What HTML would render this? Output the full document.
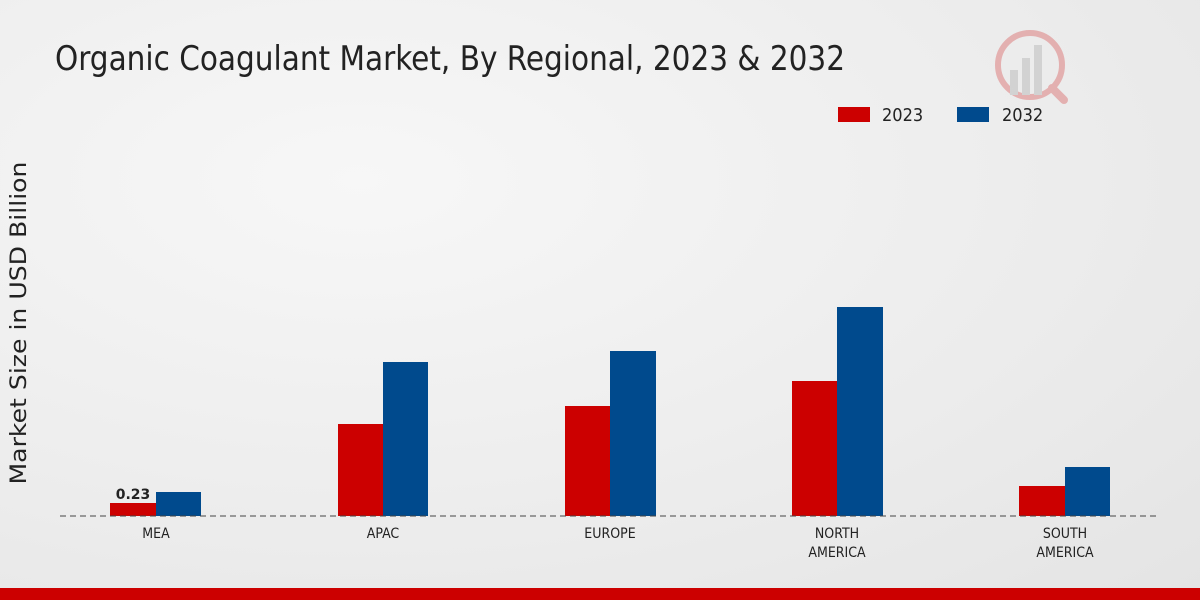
<!DOCTYPE html>
<html><head><style>
body{margin:0;width:1200px;height:600px;overflow:hidden;font-family:"Liberation Sans",sans-serif;}
.bg{position:absolute;left:0;top:0;width:1200px;height:600px;background:radial-gradient(ellipse at 30% 30%,#f7f7f7 0%,#ececec 60%,#e4e4e4 100%);}
</style></head><body>
<div class="bg"></div>
<svg width="1200" height="600" style="position:absolute;left:0;top:0" xmlns="http://www.w3.org/2000/svg">
<text x="55" y="70" font-size="34" fill="#222" font-family="DejaVu Sans Condensed, Liberation Sans, sans-serif" textLength="790" lengthAdjust="spacingAndGlyphs">Organic Coagulant Market, By Regional, 2023 &amp; 2032</text>
<g opacity="0.25">
<circle cx="1030" cy="65" r="32" fill="none" stroke="#c00" stroke-width="6"/>
<rect x="1010" y="70" width="8" height="25" fill="#888"/><rect x="1022" y="58" width="8" height="37" fill="#888"/><rect x="1034" y="45" width="8" height="50" fill="#888"/>
<line x1="1052" y1="88" x2="1064" y2="100" stroke="#c00" stroke-width="8" stroke-linecap="round"/>
</g>
<rect x="838" y="107" width="32" height="15" fill="#cc0000"/>
<text x="882" y="121" font-size="18" fill="#222" font-family="DejaVu Sans Condensed, Liberation Sans, sans-serif">2023</text>
<rect x="957" y="107" width="32" height="15" fill="#004a8d"/>
<text x="1002" y="121" font-size="18" fill="#222" font-family="DejaVu Sans Condensed, Liberation Sans, sans-serif">2032</text>
<text transform="translate(26,323) rotate(-90)" text-anchor="middle" font-size="22" fill="#222" font-family="DejaVu Sans, Liberation Sans, sans-serif" textLength="323" lengthAdjust="spacingAndGlyphs">Market Size in USD Billion</text>
<g fill="#cc0000">
<rect x="110" y="503" width="46" height="13"/>
<rect x="338" y="424" width="45" height="92"/>
<rect x="565" y="406" width="45" height="110"/>
<rect x="792" y="381" width="45" height="135"/>
<rect x="1019" y="486" width="46" height="30"/>
</g>
<g fill="#004a8d">
<rect x="156" y="492" width="45" height="24"/>
<rect x="383" y="362" width="45" height="154"/>
<rect x="610" y="351" width="46" height="165"/>
<rect x="837" y="307" width="46" height="209"/>
<rect x="1065" y="467" width="45" height="49"/>
</g>
<line x1="60" y1="516" x2="1160" y2="516" stroke="#444" stroke-width="1" stroke-dasharray="6,4"/>
<text x="133" y="499" font-size="14" font-weight="bold" text-anchor="middle" fill="#222" font-family="DejaVu Sans, Liberation Sans, sans-serif">0.23</text>
<g font-size="14" fill="#222" text-anchor="middle" font-family="DejaVu Sans Condensed, Liberation Sans, sans-serif">
<text x="156" y="538">MEA</text>
<text x="383" y="538">APAC</text>
<text x="610" y="538">EUROPE</text>
<text x="837" y="538">NORTH</text><text x="837" y="557">AMERICA</text>
<text x="1065" y="538">SOUTH</text><text x="1065" y="557">AMERICA</text>
</g>
<rect x="0" y="588" width="1200" height="12" fill="#cc0000"/>
</svg>
</body></html>
